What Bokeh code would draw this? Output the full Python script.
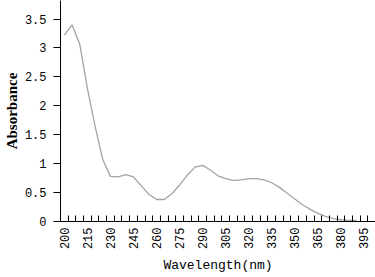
import math
from bokeh.plotting import figure
from bokeh.models import Range1d, FixedTicker
from bokeh.embed import file_html
from bokeh.resources import INLINE

wavelength = [200, 205, 210, 215, 220, 225, 230, 235, 240, 245,
              250, 255, 260, 265, 270, 275, 280, 285, 290, 295,
              300, 305, 310, 315, 320, 325, 330, 335, 340, 345,
              350, 355, 360, 365, 370, 375, 380, 385, 390]
absorbance = [3.22, 3.40, 3.07, 2.30, 1.65, 1.07, 0.78, 0.77, 0.81, 0.77,
              0.62, 0.47, 0.38, 0.38, 0.48, 0.63, 0.80, 0.94, 0.97, 0.89,
              0.79, 0.74, 0.71, 0.72, 0.74, 0.74, 0.72, 0.67, 0.59, 0.49,
              0.39, 0.29, 0.21, 0.14, 0.09, 0.05, 0.03, 0.02, 0.02]
category_values = list(range(200, 405, 5))
x_tick_labels = [200, 215, 230, 245, 260, 275, 290, 305, 320, 335, 350, 365, 380, 395]
y_ticks = [0, 0.5, 1, 1.5, 2, 2.5, 3, 3.5]
y_tick_labels = ["0", "0.5", "1", "1.5", "2", "2.5", "3", "3.5"]

p = figure(width=375, height=277, output_backend="svg", toolbar_location=None,
           x_range=Range1d(197.5, 402.5), y_range=Range1d(0, 3.82),
           min_border_left=58, min_border_right=0, min_border_top=0, min_border_bottom=56)
p.outline_line_color = None
p.xgrid.grid_line_color = None
p.ygrid.grid_line_color = None
p.background_fill_color = "white"
p.border_fill_color = "white"

p.line(wavelength, absorbance, line_color="#a3a3a3", line_width=1.3)

# x axis: labels centered on categories, tick marks between categories
xa = p.xaxis[0]
xa.ticker = FixedTicker(ticks=x_tick_labels,
                        minor_ticks=[c - 2.5 for c in category_values] + [category_values[-1] + 2.5])
xa.major_tick_in = 0
xa.major_tick_out = 0
xa.minor_tick_in = 6
xa.minor_tick_out = 0
xa.minor_tick_line_color = "black"
xa.axis_line_color = "black"
xa.major_label_orientation = math.pi / 2
xa.major_label_standoff = 6
xa.major_label_text_font = "Liberation Mono"
xa.major_label_text_font_size = "12px"
xa.major_label_text_color = "black"
xa.axis_label = "Wavelength(nm)"
xa.axis_label_text_font = "Liberation Mono"
xa.axis_label_text_font_size = "13px"
xa.axis_label_text_font_style = "normal"
xa.axis_label_text_color = "black"
xa.axis_label_standoff = 6

ya = p.yaxis[0]
ya.ticker = FixedTicker(ticks=y_ticks, minor_ticks=[])
ya.major_label_overrides = {t: l for t, l in zip(y_ticks, y_tick_labels)}
ya.major_tick_in = 0
ya.major_tick_out = 7
ya.minor_tick_in = 0
ya.minor_tick_out = 0
ya.axis_line_color = "black"
ya.major_tick_line_color = "black"
ya.major_label_standoff = 7
ya.major_label_text_font = "Liberation Mono"
ya.major_label_text_font_size = "12px"
ya.major_label_text_color = "black"
ya.axis_label = "Absorbance"
ya.axis_label_text_font = "Liberation Serif"
ya.axis_label_text_font_size = "15px"
ya.axis_label_text_font_style = "bold"
ya.axis_label_text_color = "black"
ya.axis_label_standoff = 2

open("out.html", "w").write(file_html(p, INLINE))
